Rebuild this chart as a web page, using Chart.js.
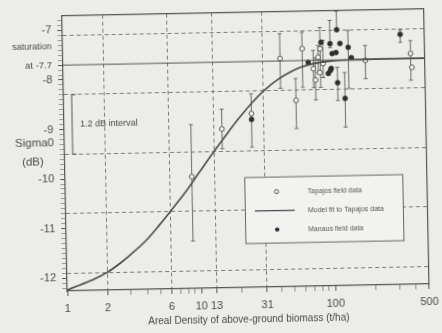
<!DOCTYPE html>
<html><head><meta charset="utf-8">
<script src="https://cdn.jsdelivr.net/npm/chart.js@4.4.1/dist/chart.umd.min.js"></script>
<style>
html,body{margin:0;padding:0;background:#ecece9;overflow:hidden}
#wrap{width:442px;height:333px;transform:rotate(-1.1deg);transform-origin:221px 166px}
canvas{display:block}
</style></head><body>
<div id="wrap"><canvas id="c" width="442" height="333"></canvas></div>
<script>
// ---- data ----
const xTickLabels = [1, 2, 6, 10, 13, 31, 100, 500];
const xAllTicks = [1,2,3,4,5,6,7,8,9,10,13,20,31,40,50,60,70,80,90,100,200,300,400,500];
const yTickLabels = [-7, -8, -9, -10, -11, -12];
const intervalLevels = [-7.1, -8.3, -9.5, -10.7, -11.9];
const intervalCrossings = [2, 6, 13, 31];
const saturationLevel = -7.7;

const modelX = [1, 1.5, 2, 2.5, 3, 4, 5, 6, 7, 8, 10, 13, 16, 20, 25, 31, 40, 50, 60, 70, 85, 100, 150, 200, 500];
const modelY = [-12.24, -12.06, -11.9, -11.72, -11.55, -11.25, -10.955, -10.7, -10.48, -10.28, -9.92, -9.5, -9.18, -8.85, -8.55, -8.3, -8.07, -7.92, -7.83, -7.78, -7.74, -7.72, -7.705, -7.7, -7.7];

const tapajosX    = [8.8, 15, 25, 41.6, 54, 61, 73.6, 76, 80, 82, 83, 87, 180, 392, 400];
const tapajosY    = [-10.0, -9.05, -8.75, -7.65, -8.5, -7.46, -7.87, -8.1, -7.64, -7.95, -7.47, -7.77, -7.72, -7.6, -7.88];
const tapajosLow  = [-11.3, -9.45, -9.43, -8.25, -9.07, -8.24, -8.25, -8.5, -7.95, null, -8.25, -8.05, -8.09, -8.14, null];
const tapajosHigh = [-8.95, -8.65, -8.35, -7.15, -8.06, -7.13, -7.5, -7.65, -7.4, null, -7.04, -7.3, -7.42, -7.34, null];

const manausX    = [25, 67.5, 84.5, 98.6, 102, 111, 117, 95, 98.6, 100, 111, 125.6, 134.6, 141.7, 330, 109];
const manausY    = [-8.87, -7.74, -7.34, -7.37, -7.57, -7.09, -7.37, -7.97, -7.91, -7.87, -8.16, -8.48, -7.45, -7.66, -7.21, -7.55];
const manausLow  = [null, null, null, -7.45, null, -7.1, null, null, null, null, -8.52, -9.06, -8.28, null, -7.37, null];
const manausHigh = [null, null, null, -6.9, null, -6.72, null, null, null, null, -7.85, -7.96, -7.11, null, -7.12, null];

const Y_MIN = -12.26, Y_MAX = -6.70, X_MIN = 1, X_MAX = 500;

// ---- helpers ----
const near = (a, b) => Math.abs(a - b) < 1e-6;
const pts = (xs, ys) => xs.map((x, i) => ({x, y: ys[i]}));
const INK = '#4a4a4a';

Chart.defaults.font.family = '"Liberation Sans", Arial, sans-serif';
Chart.defaults.color = INK;

const errorBars = {
  id: 'errorBars',
  beforeDatasetsDraw(chart) {
    const {ctx, scales: {x, y}} = chart;
    ctx.save();
    ctx.strokeStyle = '#6a6a6a';
    ctx.lineWidth = 1;
    chart.data.datasets.forEach(ds => {
      if (!ds.errLow) return;
      ds.data.forEach((p, i) => {
        const lo = ds.errLow[i], hi = ds.errHigh[i];
        if (lo == null || hi == null) return;
        const px = x.getPixelForValue(p.x);
        const y1 = y.getPixelForValue(hi), y2 = y.getPixelForValue(lo);
        ctx.beginPath();
        ctx.moveTo(px, y1); ctx.lineTo(px, y2);
        ctx.moveTo(px - 2, y1); ctx.lineTo(px + 2, y1);
        ctx.moveTo(px - 2, y2); ctx.lineTo(px + 2, y2);
        ctx.stroke();
      });
    });
    ctx.restore();
  }
};

const annotations = {
  id: 'annotations',
  afterDraw(chart) {
    const {ctx, chartArea: ca, scales: {y}} = chart;
    ctx.save();
    ctx.fillStyle = INK;
    ctx.textBaseline = 'middle';
    // saturation label above the "at -7.7" tick label
    ctx.font = '9px "Liberation Sans"';
    ctx.textAlign = 'right';
    ctx.fillText('saturation', ca.left - 11, y.getPixelForValue(saturationLevel) - 19);
    // y axis title
    ctx.font = '11.5px "Liberation Sans"';
    ctx.textAlign = 'center';
    ctx.fillText('Sigma0', 35, y.getPixelForValue(-9.26));
    ctx.fillText('(dB)', 33, y.getPixelForValue(-9.66));
    // 1.2 dB interval bracket
    const bx = ca.left + 8;
    const y1 = y.getPixelForValue(intervalLevels[1]);
    const y2 = y.getPixelForValue(intervalLevels[2]);
    ctx.strokeStyle = '#555';
    ctx.lineWidth = 1;
    ctx.beginPath();
    ctx.moveTo(bx + 4, y1); ctx.lineTo(bx, y1); ctx.lineTo(bx, y2); ctx.lineTo(bx + 4, y2);
    ctx.stroke();
    ctx.font = '9px "Liberation Sans"';
    ctx.textAlign = 'left';
    ctx.fillText('1.2 dB interval', ca.left + 16, (y1 + y2) / 2);
    // legend box
    const lx = ca.left + 179, ly = ca.top + 165, lw = 158, lh = 66;
    ctx.fillStyle = '#f2f2f0';
    ctx.fillRect(lx, ly, lw, lh);
    ctx.strokeStyle = '#666';
    ctx.strokeRect(lx + 0.5, ly + 0.5, lw, lh);
    const rows = [ly + 15, ly + 34, ly + 53];
    const sx = lx + 32, tx = lx + 63;
    // Tapajos marker
    ctx.beginPath(); ctx.arc(sx, rows[0], 2, 0, Math.PI * 2);
    ctx.fillStyle = '#f4f4f2'; ctx.fill(); ctx.strokeStyle = '#555'; ctx.stroke();
    // model line
    ctx.beginPath(); ctx.moveTo(lx + 10, rows[1]); ctx.lineTo(lx + 50, rows[1]);
    ctx.lineWidth = 1.4; ctx.strokeStyle = INK; ctx.stroke();
    // Manaus marker
    ctx.beginPath(); ctx.arc(sx, rows[2], 2.2, 0, Math.PI * 2);
    ctx.fillStyle = '#333'; ctx.fill();
    ctx.fillStyle = '#555';
    ctx.font = '7px "Liberation Sans"';
    ctx.fillText('Tapajos field data', tx, rows[0]);
    ctx.fillText('Model fit to Tapajos data', tx, rows[1]);
    ctx.fillText('Manaus field data', tx, rows[2]);
    ctx.restore();
  }
};

new Chart(document.getElementById('c'), {
  type: 'scatter',
  data: {
    datasets: [
      {
        type: 'line', label: 'saturation',
        data: pts([X_MIN, X_MAX], [saturationLevel, saturationLevel]),
        borderColor: '#555', borderWidth: 1, pointRadius: 0, xAxisID: 'x', yAxisID: 'y'
      },
      {
        type: 'line', label: 'Model fit to Tapajos data',
        data: pts(modelX, modelY),
        borderColor: INK, borderWidth: 1.6, pointRadius: 0,
        cubicInterpolationMode: 'monotone', xAxisID: 'x', yAxisID: 'y'
      },
      {
        label: 'Tapajos field data',
        data: pts(tapajosX, tapajosY), errLow: tapajosLow, errHigh: tapajosHigh,
        pointStyle: 'circle', pointRadius: 2.4, pointBorderWidth: 1,
        pointBackgroundColor: '#f4f4f2', pointBorderColor: '#555', xAxisID: 'x', yAxisID: 'y'
      },
      {
        label: 'Manaus field data',
        data: pts(manausX, manausY), errLow: manausLow, errHigh: manausHigh,
        pointStyle: 'circle', pointRadius: 2.5, pointBorderWidth: 0.5,
        pointBackgroundColor: '#2e2e2e', pointBorderColor: '#2e2e2e', xAxisID: 'x', yAxisID: 'y'
      }
    ]
  },
  options: {
    responsive: false, animation: false, devicePixelRatio: 1,
    layout: {padding: 0},
    plugins: {legend: {display: false}, tooltip: {enabled: false}},
    scales: {
      x: {
        type: 'logarithmic', position: 'bottom', min: X_MIN, max: X_MAX,
        afterBuildTicks: s => { s.ticks = xAllTicks.map(v => ({value: v})); },
        afterFit: s => { s.height = 45; },
        ticks: {
          autoSkip: false, maxRotation: 0, padding: 6, color: INK,
          font: {size: 11},
          callback: v => xTickLabels.some(t => near(t, v)) ? String(v) : ''
        },
        grid: {
          color: c => (c.tick && intervalCrossings.some(t => near(t, c.tick.value))) ? '#7a7a7a' : 'rgba(0,0,0,0)',
          lineWidth: 1, tickLength: 5,
          tickColor: c => (c.tick && xTickLabels.some(t => near(t, c.tick.value))) ? '#555' : '#8a8a8a'
        },
        border: {color: '#555', width: 1.2, dash: [4, 3]},
        title: {
          display: true, text: 'Areal Density of above-ground biomass (t/ha)',
          color: INK, font: {size: 10}, padding: {top: 0, bottom: 7}
        }
      },
      x2: {
        type: 'logarithmic', position: 'top', min: X_MIN, max: X_MAX,
        ticks: {display: false},
        grid: {drawOnChartArea: false, drawTicks: false},
        border: {color: '#555', width: 1.2},
        afterFit: s => { s.height = 12; }
      },
      y: {
        type: 'linear', position: 'left', min: Y_MIN, max: Y_MAX,
        afterBuildTicks: s => { const t = []; for (let k = -122; k <= -68; k++) t.push({value: k / 10}); s.ticks = t; },
        afterFit: s => { s.width = 65; },
        ticks: {
          autoSkip: false, padding: 6, color: INK,
          font: c => ({size: (c.tick && near(c.tick.value, saturationLevel)) ? 9.5 : 11}),
          callback: v => {
            const r = Math.round(v * 10) / 10;
            if (near(r, saturationLevel)) return 'at -7.7';
            return yTickLabels.some(t => near(t, r)) ? String(r) : '';
          }
        },
        grid: {
          color: c => (c.tick && intervalLevels.some(t => near(t, Math.round(c.tick.value * 10) / 10))) ? '#7a7a7a' : 'rgba(0,0,0,0)',
          lineWidth: 1, tickLength: 5,
          tickColor: c => {
            if (!c.tick) return '#8a8a8a';
            const r = Math.round(c.tick.value * 10) / 10;
            return (yTickLabels.some(t => near(t, r)) || near(r, saturationLevel)) ? '#555' : '#9a9a9a';
          }
        },
        border: {color: '#555', width: 1.2, dash: [4, 3]}
      },
      y2: {
        type: 'linear', position: 'right', min: Y_MIN, max: Y_MAX,
        ticks: {display: false},
        grid: {drawOnChartArea: false, drawTicks: false},
        border: {color: '#555', width: 1.2},
        afterFit: s => { s.width = 15; }
      }
    }
  },
  plugins: [errorBars, annotations]
});
</script>
</body></html>
